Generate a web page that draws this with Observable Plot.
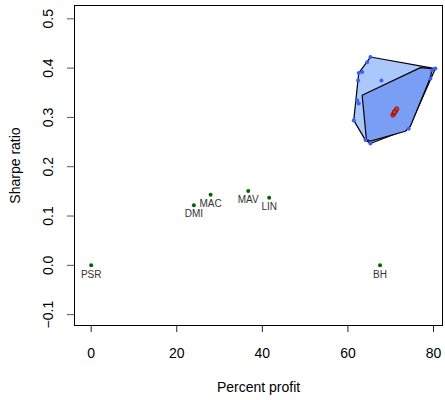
<!DOCTYPE html>
<html>
<head>
<meta charset="utf-8">
<script src="https://cdn.jsdelivr.net/npm/d3@7"></script>
<script src="https://cdn.jsdelivr.net/npm/@observablehq/plot@0.6"></script>
<style>
  body { margin: 0; background: #fff; }
  svg { font-family: "Liberation Sans", Arial, sans-serif; }
</style>
</head>
<body>
<div id="chart"></div>
<script>
// Strategy points
const strategies = ["PSR", "DMI", "MAC", "MAV", "LIN", "BH"];
const stratProfit = [0, 24.0, 27.9, 36.7, 41.6, 67.5];
const stratSharpe = [0.0, 0.122, 0.143, 0.151, 0.137, 0.0];

// Outer (light) hull point set
const outerX = [65.26, 64.49, 62.52, 63.32, 62.38, 67.83, 62.15, 62.52, 61.36, 64.09, 65.26, 74.21, 79.28, 80.44, 79.67];
const outerY = [0.4225, 0.412, 0.390, 0.392, 0.375, 0.375, 0.335, 0.328, 0.294, 0.254, 0.247, 0.277, 0.379, 0.399, 0.3955];

// Inner (dark) hull vertices
const innerX = [63.32, 76.94, 79.67, 79.28, 74.60, 73.43, 65.26, 64.32];
const innerY = [0.345, 0.401, 0.399, 0.381, 0.282, 0.272, 0.252, 0.255];

// Red cluster
const redX = [70.5, 70.8, 71.1, 71.4, 70.9];
const redY = [0.305, 0.309, 0.313, 0.317, 0.311];

const xTicks = [0, 20, 40, 60, 80];
const yTicks = [-0.1, 0.0, 0.1, 0.2, 0.3, 0.4, 0.5];

const strat = strategies.map((s, i) => ({name: s, x: stratProfit[i], y: stratSharpe[i]}));
const outer = outerX.map((x, i) => ({x, y: outerY[i]}));
const inner = innerX.map((x, i) => ({x, y: innerY[i]}));
const red = redX.map((x, i) => ({x, y: redY[i]}));

const fmtY = d => (d < 0 ? "\u2212" : "") + Math.abs(d).toFixed(1);

const chart = Plot.plot({
  width: 445,
  height: 400,
  marginLeft: 74,
  marginRight: 3,
  marginTop: 5,
  marginBottom: 75,
  x: {domain: [-3.9, 82.1]},
  y: {domain: [-0.122, 0.527]},
  style: {fontSize: "14px", fontFamily: "Liberation Sans, Arial, sans-serif", color: "#000"},
  marks: [
    Plot.hull(outer, {x: "x", y: "y", fill: "#aac8fb", stroke: "black", strokeWidth: 1.2}),
    Plot.hull(inner, {x: "x", y: "y", fill: "#7b9ef5", stroke: "black", strokeWidth: 1.2}),
    Plot.dot(outer, {x: "x", y: "y", r: 2, fill: "#3d5ef7", stroke: "none"}),
    Plot.dot(red, {x: "x", y: "y", r: 2.2, fill: "#f03010", stroke: "#5a0000", strokeWidth: 0.6}),
    Plot.dot(strat, {x: "x", y: "y", r: 2, fill: "#006400", stroke: "none"}),
    Plot.text(strat, {x: "x", y: "y", text: "name", dy: 9, fontSize: 10, fill: "#333"}),
    Plot.frame({stroke: "black"}),
    Plot.axisX({ticks: xTicks, tickSize: 7, tickPadding: 16, tickFormat: d => String(d), fontSize: 14, stroke: "#222", label: null}),
    Plot.axisY({ticks: yTicks, tickSize: 7, tickFormat: () => "", stroke: "#555", label: null}),
    Plot.text(yTicks, {y: d => d, text: fmtY, frameAnchor: "left", textAnchor: "middle", lineAnchor: "middle", dx: -26, rotate: -90, fontSize: 14, fill: "#000"}),
    Plot.text(["Sharpe ratio"], {frameAnchor: "left", textAnchor: "middle", lineAnchor: "middle", dx: -59, rotate: -90, fontSize: 14, fill: "#000"}),
    Plot.text(["Percent profit"], {frameAnchor: "bottom", textAnchor: "middle", lineAnchor: "middle", dy: 62, fontSize: 14, fill: "#000"})
  ]
});
document.getElementById("chart").appendChild(chart);
</script>
</body>
</html>
